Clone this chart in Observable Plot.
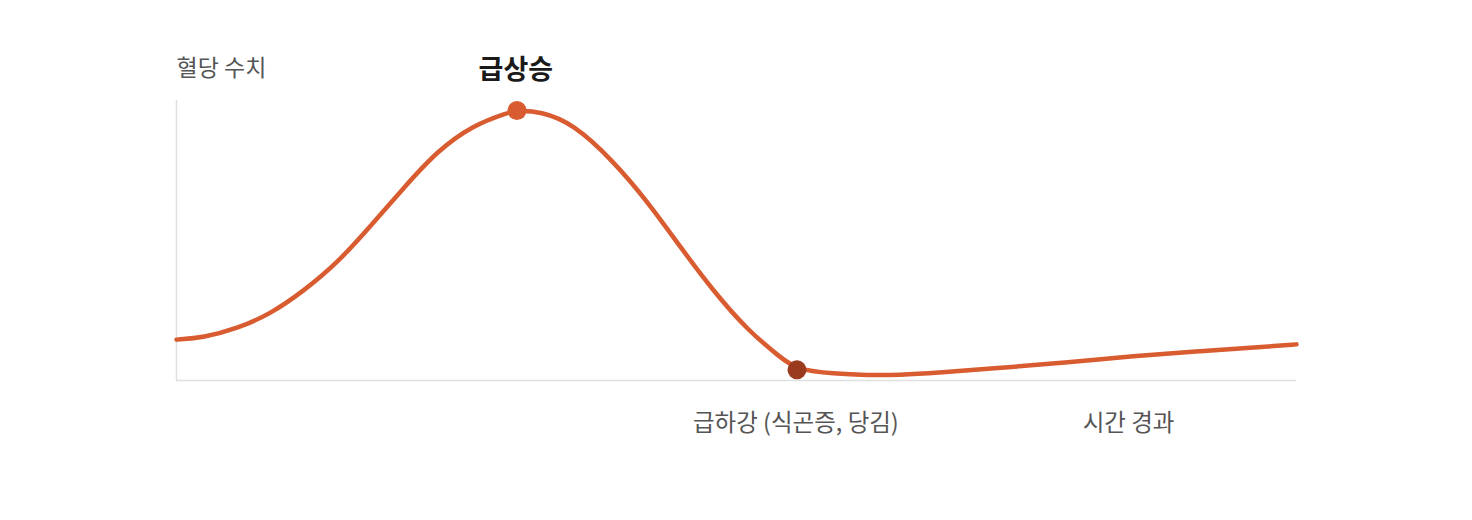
<!DOCTYPE html>
<html>
<head>
<meta charset="utf-8">
<script src="https://cdn.jsdelivr.net/npm/d3@7"></script>
<script src="https://cdn.jsdelivr.net/npm/@observablehq/plot@0.6"></script>
<style>
  html, body { margin: 0; padding: 0; background: #fff; }
  #chart { width: 1472px; height: 520px; }
  svg { font-family: "Noto Sans CJK KR", "Noto Sans", sans-serif; }
</style>
</head>
<body>
<div id="chart"></div>
<script>
// time (0-100) and blood sugar level (0-100)
const time  = [0, 2.4, 5.4, 8.4, 11.3, 14.4, 17.3, 20.3, 23.3, 26.5, 29.6, 30.4, 32.5, 35.4, 39.0, 42.1, 45.0, 47.9, 51.0, 53.9, 55.4, 58.7, 61.7, 64.6, 67.6, 73.6, 79.6, 85.4, 91.4, 97.4, 100];
const level = [14.6, 15.3, 18.5, 23.8, 31.8, 42.1, 55.0, 68.9, 82.1, 91.25, 95.7, 96.4, 96.1, 91.8, 78.4, 63.7, 47.6, 32.1, 17.9, 8.3, 3.8, 2.4, 1.9, 2.0, 2.6, 4.5, 6.5, 8.7, 10.5, 12.1, 12.9];

const markerTime  = [30.4, 55.4];
const markerLevel = [96.4, 3.8];
const markerColor = ["#D95B30", "#9A3A1E"];

const labelText = ["혈당 수치", "급상승", "급하강 (식곤증, 당김)", "시간 경과"];
const labelTime = [0, 30.3, 55.3, 85];
const labelLevel = [111.4, 110.7, -15.3, -15.3];

const curve = time.map((t, i) => ({t, v: level[i]}));
const markers = markerTime.map((t, i) => ({t, v: markerLevel[i], c: markerColor[i]}));
const labels = labelText.map((s, i) => ({s, t: labelTime[i], v: labelLevel[i]}));

const plot = Plot.plot({
  width: 1472,
  height: 520,
  marginLeft: 176,
  marginRight: 176,
  marginTop: 100,
  marginBottom: 140,
  x: {domain: [0, 100], axis: null},
  y: {domain: [0, 100], axis: null},
  style: {fontFamily: '"Noto Sans CJK KR", "Noto Sans", sans-serif', background: "#fff"},
  marks: [
    Plot.ruleX([0], {y1: 0, y2: 100, stroke: "#e0e0e0", strokeWidth: 1.5}),
    Plot.ruleY([0], {x1: 0, x2: 100, stroke: "#e0e0e0", strokeWidth: 1.5}),
    Plot.line(curve, {x: "t", y: "v", curve: "basis", stroke: "#D95B30", strokeWidth: 4.5, strokeLinecap: "round"}),
    Plot.dot(markers, {x: "t", y: "v", r: 9.5, fill: "c", stroke: null}),
    Plot.text(labels.slice(0, 1), {x: "t", y: "v", text: "s", textAnchor: "start", fontSize: 23, fill: "#555"}),
    Plot.text(labels.slice(1, 2), {x: "t", y: "v", text: "s", fontSize: 27, fontWeight: "bold", fill: "#1a1a1a"}),
    Plot.text(labels.slice(2), {x: "t", y: "v", text: "s", fontSize: 23.5, fill: "#555"})
  ]
});
document.getElementById("chart").appendChild(plot);
</script>
</body>
</html>
